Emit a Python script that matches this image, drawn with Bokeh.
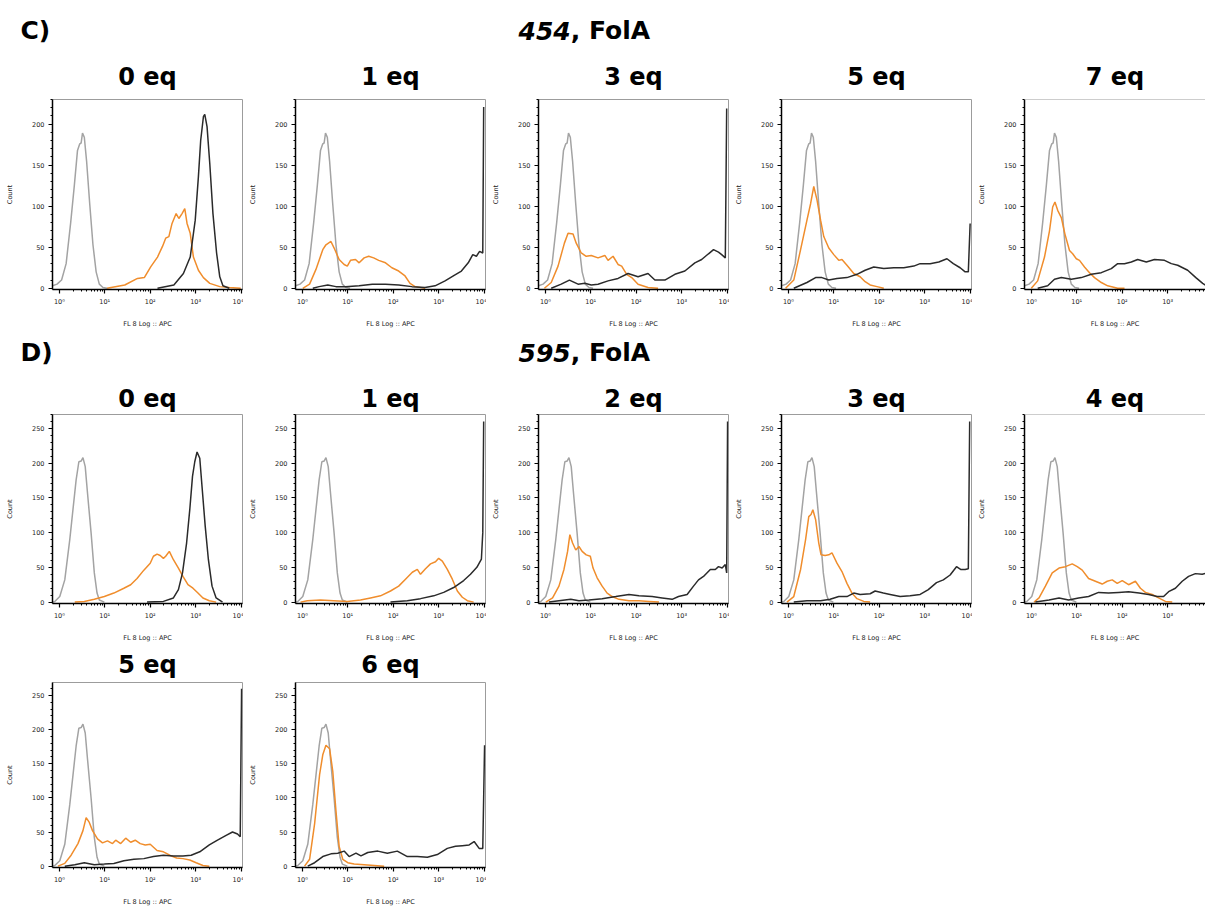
import numpy as np
from bokeh.plotting import figure
from bokeh.layouts import row, column
from bokeh.models import Range1d, FixedTicker, CustomJSTickFormatter, Label, Span
from bokeh.embed import file_html
from bokeh.resources import INLINE

# ---------------------------------------------------------------
# Flow cytometry histograms (FL 8 Log :: APC), x given in log10 units
# ---------------------------------------------------------------
X_DECADES = [0, 1, 2, 3, 4]
X_START, X_END = -0.15, 4.03

# compound 454, FolA
C_COMPOUND = "454"
C_TITLES = ["0 eq", "1 eq", "3 eq", "5 eq", "7 eq"]
C_Y_TICKS = [0, 50, 100, 150, 200]

C_GRAY_X = [-0.15, -0.05, 0.05, 0.15, 0.25, 0.33, 0.40, 0.45, 0.48, 0.51, 0.55, 0.60, 0.67, 0.74, 0.81, 0.88, 0.96, 1.05]
C_GRAY_Y = [3, 5, 10, 30, 80, 125, 168, 176, 177, 189, 184, 155, 102, 53, 20, 5, 1, 0]

C1_ORANGE_X = [1.05, 1.44, 1.72, 1.87, 2.01, 2.16, 2.27, 2.34, 2.41, 2.48, 2.57, 2.63, 2.70, 2.76, 2.81, 2.88, 2.95, 3.06, 3.17, 3.31, 3.53, 3.74, 3.99]
C1_ORANGE_Y = [0, 4, 12, 13, 26, 38, 51, 61, 63, 79, 91, 85, 91, 97, 79, 67, 38, 22, 13, 6, 2, 1, 0]
C1_BLACK_X = [2.16, 2.52, 2.73, 2.88, 2.99, 3.06, 3.11, 3.17, 3.20, 3.25, 3.31, 3.38, 3.46, 3.53, 3.60, 3.74]
C1_BLACK_Y = [0, 4, 18, 38, 83, 136, 180, 209, 212, 197, 152, 91, 43, 14, 3, 0]

C2_ORANGE_X = [0.01, 0.16, 0.30, 0.45, 0.52, 0.63, 0.70, 0.81, 0.92, 0.99, 1.06, 1.17, 1.25, 1.36, 1.46, 1.57, 1.68, 1.83, 1.97, 2.12, 2.26, 2.37, 2.48, 2.70]
C2_ORANGE_Y = [0, 5, 23, 47, 53, 57, 49, 35, 29, 27, 34, 35, 31, 37, 39, 37, 34, 31, 25, 21, 15, 6, 2, 0]
C2_BLACK_X = [0.23, 0.37, 0.56, 0.74, 0.95, 1.25, 1.54, 1.83, 2.12, 2.41, 2.70, 2.92, 3.14, 3.35, 3.50, 3.65, 3.75, 3.83, 3.90, 3.97, 3.99]
C2_BLACK_Y = [0, 2, 4, 2, 2, 3, 5, 5, 4, 2, 1, 3, 9, 16, 21, 31, 41, 39, 45, 43, 221]

C3_ORANGE_X = [-0.02, 0.13, 0.28, 0.42, 0.50, 0.61, 0.68, 0.79, 0.90, 1.01, 1.16, 1.31, 1.38, 1.49, 1.60, 1.68, 1.79, 1.90, 2.04, 2.26, 2.48]
C3_ORANGE_Y = [0, 7, 27, 55, 67, 66, 55, 43, 39, 40, 37, 40, 34, 39, 29, 27, 17, 13, 5, 1, 0]
C3_BLACK_X = [0.13, 0.35, 0.53, 0.72, 0.87, 1.01, 1.16, 1.38, 1.60, 1.82, 2.04, 2.26, 2.41, 2.63, 2.85, 3.07, 3.29, 3.44, 3.59, 3.70, 3.81, 3.88, 3.96, 3.99]
C3_BLACK_Y = [0, 5, 10, 5, 6, 4, 5, 9, 12, 18, 14, 18, 10, 10, 17, 21, 31, 35, 42, 47, 44, 41, 37, 219]

C4_ORANGE_X = [-0.06, 0.12, 0.27, 0.41, 0.49, 0.56, 0.63, 0.71, 0.78, 0.89, 1.00, 1.11, 1.18, 1.29, 1.44, 1.58, 1.69, 1.80, 1.95, 2.10]
C4_ORANGE_Y = [0, 10, 47, 83, 103, 124, 108, 83, 63, 49, 41, 34, 35, 28, 18, 14, 8, 4, 2, 0]
C4_BLACK_X = [0.12, 0.41, 0.60, 0.74, 0.89, 1.07, 1.29, 1.51, 1.69, 1.88, 2.10, 2.32, 2.54, 2.76, 2.90, 3.12, 3.31, 3.49, 3.63, 3.78, 3.89, 3.96, 4.00]
C4_BLACK_Y = [0, 7, 13, 13, 10, 12, 13, 17, 22, 26, 24, 25, 25, 27, 30, 30, 32, 36, 30, 25, 20, 20, 79]

C5_ORANGE_X = [0.00, 0.14, 0.29, 0.40, 0.47, 0.52, 0.58, 0.66, 0.74, 0.84, 0.91, 0.99, 1.06, 1.17, 1.28, 1.39, 1.54, 1.68, 1.90, 2.05]
C5_ORANGE_Y = [0, 9, 38, 70, 99, 105, 95, 86, 66, 46, 42, 36, 34, 26, 19, 13, 7, 3, 0, 0]
C5_BLACK_X = [0.14, 0.36, 0.51, 0.66, 0.88, 1.10, 1.32, 1.54, 1.76, 1.90, 2.05, 2.20, 2.34, 2.53, 2.71, 2.93, 3.08, 3.22, 3.44, 3.62, 3.77, 3.85]
C5_BLACK_Y = [0, 3, 11, 13, 11, 13, 17, 19, 24, 30, 30, 32, 35, 32, 35, 34, 30, 28, 22, 13, 6, 3]

# compound 595, FolA
D_COMPOUND = "595"
D_TITLES = ["0 eq", "1 eq", "2 eq", "3 eq", "4 eq", "5 eq", "6 eq"]
D_Y_TICKS = [0, 50, 100, 150, 200, 250]

D_GRAY_X = [-0.15, -0.10, 0.01, 0.12, 0.23, 0.30, 0.37, 0.43, 0.48, 0.52, 0.57, 0.62, 0.70, 0.77, 0.83, 0.88, 0.99]
D_GRAY_Y = [0, 1, 8, 32, 90, 133, 176, 202, 203, 208, 195, 157, 99, 42, 13, 3, 0]

D1_ORANGE_X = [0.34, 0.55, 0.77, 0.99, 1.20, 1.42, 1.57, 1.71, 1.86, 2.00, 2.07, 2.15, 2.22, 2.29, 2.34, 2.42, 2.51, 2.62, 2.72, 2.83, 2.94, 3.05, 3.16, 3.30, 3.45]
D1_ORANGE_Y = [0, 1, 4, 8, 13, 20, 25, 34, 46, 56, 66, 69, 67, 63, 66, 73, 61, 49, 37, 25, 20, 13, 6, 2, 0]
D1_BLACK_X = [1.93, 2.29, 2.51, 2.62, 2.71, 2.80, 2.87, 2.93, 2.98, 3.03, 3.09, 3.14, 3.21, 3.28, 3.36, 3.45, 3.59]
D1_BLACK_Y = [0, 1, 6, 18, 42, 85, 133, 181, 202, 216, 207, 166, 109, 61, 23, 6, 0]

D2_ORANGE_X = [-0.04, 0.11, 0.40, 0.69, 0.99, 1.28, 1.50, 1.72, 1.94, 2.12, 2.27, 2.42, 2.53, 2.60, 2.71, 2.82, 2.93, 3.00, 3.08, 3.19, 3.30, 3.41, 3.52, 3.63, 3.77]
D2_ORANGE_Y = [0, 2, 3, 2, 1, 3, 6, 9, 16, 23, 33, 43, 47, 40, 48, 55, 58, 63, 59, 47, 33, 16, 7, 2, 0]
D2_BLACK_X = [1.94, 2.31, 2.60, 2.89, 3.11, 3.33, 3.55, 3.70, 3.84, 3.94, 3.97, 3.99]
D2_BLACK_Y = [0, 2, 5, 9, 14, 21, 31, 40, 50, 62, 100, 260]

D3_ORANGE_X = [0.01, 0.16, 0.30, 0.41, 0.49, 0.54, 0.60, 0.67, 0.74, 0.81, 0.90, 0.99, 1.05, 1.14, 1.25, 1.36, 1.47, 1.62, 1.84, 2.06, 2.28, 2.50]
D3_ORANGE_Y = [0, 6, 23, 47, 73, 97, 85, 75, 80, 73, 68, 66, 49, 35, 23, 13, 8, 4, 2, 2, 1, 0]
D3_BLACK_X = [0.08, 0.30, 0.56, 0.74, 0.96, 1.25, 1.55, 1.84, 2.06, 2.35, 2.57, 2.79, 2.93, 3.12, 3.26, 3.37, 3.48, 3.63, 3.74, 3.81, 3.89, 3.96, 3.99, 4.01]
D3_BLACK_Y = [0, 2, 4, 2, 3, 5, 8, 11, 9, 8, 6, 4, 8, 11, 23, 32, 37, 47, 47, 51, 49, 54, 42, 260]

D4_ORANGE_X = [-0.03, 0.12, 0.27, 0.38, 0.45, 0.50, 0.54, 0.60, 0.67, 0.72, 0.81, 0.89, 0.96, 1.07, 1.18, 1.29, 1.40, 1.51, 1.66, 1.80]
D4_ORANGE_Y = [0, 8, 47, 90, 123, 126, 133, 119, 85, 68, 67, 68, 71, 56, 44, 27, 13, 5, 1, 0]
D4_BLACK_X = [0.12, 0.41, 0.71, 0.92, 1.11, 1.29, 1.44, 1.58, 1.80, 1.91, 2.09, 2.24, 2.46, 2.68, 2.90, 3.08, 3.26, 3.41, 3.56, 3.70, 3.79, 3.89, 3.96, 3.99]
D4_BLACK_Y = [0, 2, 2, 4, 8, 8, 13, 11, 12, 16, 13, 11, 8, 9, 11, 18, 28, 32, 39, 51, 47, 47, 48, 260]

D5_ORANGE_X = [0.06, 0.17, 0.31, 0.46, 0.61, 0.75, 0.90, 1.01, 1.12, 1.26, 1.41, 1.56, 1.67, 1.78, 1.89, 2.00, 2.14, 2.29, 2.40, 2.51, 2.66, 2.80, 2.95, 3.10]
D5_ORANGE_Y = [0, 6, 23, 42, 49, 51, 55, 51, 46, 34, 30, 26, 30, 32, 27, 31, 25, 30, 20, 14, 11, 6, 1, 0]
D5_BLACK_X = [0.09, 0.39, 0.61, 0.82, 1.04, 1.26, 1.48, 1.70, 1.92, 2.14, 2.37, 2.58, 2.77, 2.91, 3.02, 3.17, 3.32, 3.46, 3.61, 3.76, 3.87]
D5_BLACK_Y = [0, 3, 6, 3, 6, 8, 14, 13, 14, 15, 13, 11, 8, 8, 15, 20, 30, 37, 41, 40, 42]

D6_ORANGE_X = [-0.03, 0.12, 0.26, 0.41, 0.52, 0.59, 0.66, 0.73, 0.84, 0.95, 1.06, 1.17, 1.24, 1.35, 1.46, 1.57, 1.67, 1.78, 1.89, 2.00, 2.15, 2.29, 2.43, 2.58, 2.72, 2.87, 3.01, 3.16, 3.30]
D6_ORANGE_Y = [0, 4, 16, 33, 52, 71, 64, 52, 40, 34, 37, 33, 38, 33, 41, 35, 38, 33, 31, 32, 23, 21, 16, 12, 11, 9, 5, 1, 0]
D6_BLACK_X = [0.12, 0.34, 0.55, 0.77, 0.99, 1.20, 1.42, 1.64, 1.86, 2.07, 2.29, 2.51, 2.72, 2.90, 3.09, 3.30, 3.48, 3.67, 3.81, 3.92, 3.98, 4.01]
D6_BLACK_Y = [0, 2, 5, 2, 3, 4, 8, 10, 11, 14, 16, 15, 15, 16, 21, 31, 38, 45, 50, 47, 43, 260]

D7_ORANGE_X = [0.05, 0.16, 0.27, 0.38, 0.45, 0.52, 0.60, 0.67, 0.74, 0.81, 0.89, 1.00, 1.14, 1.36, 1.58, 1.80]
D7_ORANGE_Y = [0, 10, 62, 134, 163, 177, 172, 139, 81, 29, 10, 5, 3, 2, 1, 0]
D7_BLACK_X = [0.12, 0.27, 0.45, 0.63, 0.78, 0.92, 1.03, 1.18, 1.29, 1.44, 1.66, 1.87, 2.09, 2.31, 2.53, 2.75, 2.97, 3.19, 3.37, 3.52, 3.67, 3.78, 3.89, 3.97, 4.01]
D7_BLACK_Y = [0, 5, 14, 18, 19, 22, 14, 19, 15, 20, 22, 19, 22, 14, 14, 13, 17, 26, 29, 30, 31, 36, 26, 26, 177]

GRAY, ORANGE, BLACK = "#a3a3a3", "#f08d2c", "#2a2a2a"
FRAME_GRAY = "#9c9c9c"
FONT = "DejaVu Sans"

LOG_FMT = CustomJSTickFormatter(code="""
const sup = ["\u2070", "\u00b9", "\u00b2", "\u00b3", "\u2074"];
const e = Math.round(Math.log10(tick));
return "10" + sup[e];
""")

COL_W = 243
LEFT_B = 52
FRAME_W = 190


def panel(title, gray, orange, black, y_ticks, y_lo, y_hi, height, top, bottom,
          title_standoff, title_offset, last=False):
    width = 1205 - 4 * COL_W if last else COL_W
    fw = width - LEFT_B - (0 if last else 1)
    x_end = X_START + fw / FRAME_W * (X_END - X_START)
    p = figure(width=width, height=height, x_axis_type="log",
               x_range=Range1d(10 ** X_START, 10 ** x_end), y_range=Range1d(y_lo, y_hi),
               min_border_left=LEFT_B, min_border_right=0 if last else 1,
               min_border_top=top, min_border_bottom=bottom,
               output_backend="svg", toolbar_location=None, title=title)
    p.title.align = "center"
    p.title.text_font = FONT
    p.title.text_font_style = "bold"
    p.title.text_font_size = "24px"
    p.title.text_color = "black"
    p.title.standoff = title_standoff
    p.title.offset = title_offset
    p.xgrid.visible = False
    p.ygrid.visible = False
    p.background_fill_color = "white"
    p.border_fill_color = "white"
    if last:
        p.outline_line_color = None
        p.add_layout(Span(location=y_hi, dimension="width", line_color=FRAME_GRAY, line_width=1))
    else:
        p.outline_line_color = FRAME_GRAY
        p.outline_line_width = 1

    for (xs, ys), col in ((gray, GRAY), (orange, ORANGE), (black, BLACK)):
        p.line(10 ** np.asarray(xs, dtype=float), ys, line_color=col, line_width=1.5)

    xa = p.xaxis[0]
    xa.ticker = FixedTicker(ticks=[10.0 ** d for d in X_DECADES],
                            minor_ticks=[m * 10.0 ** d for d in X_DECADES[:-1] for m in range(2, 10)])
    xa.formatter = LOG_FMT
    xa.axis_label = "FL 8 Log :: APC"
    xa.axis_label_standoff = 11
    ya = p.yaxis[0]
    ya.ticker = FixedTicker(ticks=y_ticks, minor_ticks=list(range(0, int(y_hi) + 1, 10)))
    ya.axis_label = "Count"
    ya.axis_label_standoff = 15
    for ax in (xa, ya):
        ax.axis_line_color = "black"
        ax.axis_line_width = 1.5
        ax.major_tick_line_color = "black"
        ax.major_tick_line_width = 1.2
        ax.major_tick_out = 4
        ax.major_tick_in = 0
        ax.minor_tick_line_color = "black"
        ax.minor_tick_out = 2
        ax.minor_tick_in = 0
        ax.major_label_text_font = FONT
        ax.major_label_text_font_size = "6.5px"
        ax.major_label_text_color = "#222222"
        ax.major_label_standoff = 4
        ax.axis_label_text_font = FONT
        ax.axis_label_text_font_style = "normal"
        ax.axis_label_text_color = "#222222"
    xa.axis_label_text_font_size = "6.5px"
    ya.axis_label_text_font_size = "6.5px"
    return p


def header(letter, compound, height, yc):
    h = figure(width=1205, height=height, x_range=Range1d(0, 1205), y_range=Range1d(height, 0),
               x_axis_location=None, y_axis_location=None, min_border=0,
               output_backend="svg", toolbar_location=None)
    h.xgrid.visible = False
    h.ygrid.visible = False
    h.outline_line_color = None
    common = dict(y=yc, text_font=FONT, text_font_size="25px", text_baseline="middle",
                  text_align="left", text_color="black")
    h.add_layout(Label(x=20, text=letter, text_font_style="bold", **common))
    h.add_layout(Label(x=518, text=compound, text_font_style="bold italic", **common))
    h.add_layout(Label(x=518 + 3 * 0.696 * 25, text=", FolA", text_font_style="bold", **common))
    return h


C_DATA = [
    (C1_ORANGE_X, C1_ORANGE_Y, C1_BLACK_X, C1_BLACK_Y),
    (C2_ORANGE_X, C2_ORANGE_Y, C2_BLACK_X, C2_BLACK_Y),
    (C3_ORANGE_X, C3_ORANGE_Y, C3_BLACK_X, C3_BLACK_Y),
    (C4_ORANGE_X, C4_ORANGE_Y, C4_BLACK_X, C4_BLACK_Y),
    (C5_ORANGE_X, C5_ORANGE_Y, C5_BLACK_X, C5_BLACK_Y),
]
D_DATA = [
    (D1_ORANGE_X, D1_ORANGE_Y, D1_BLACK_X, D1_BLACK_Y),
    (D2_ORANGE_X, D2_ORANGE_Y, D2_BLACK_X, D2_BLACK_Y),
    (D3_ORANGE_X, D3_ORANGE_Y, D3_BLACK_X, D3_BLACK_Y),
    (D4_ORANGE_X, D4_ORANGE_Y, D4_BLACK_X, D4_BLACK_Y),
    (D5_ORANGE_X, D5_ORANGE_Y, D5_BLACK_X, D5_BLACK_Y),
    (D6_ORANGE_X, D6_ORANGE_Y, D6_BLACK_X, D6_BLACK_Y),
    (D7_ORANGE_X, D7_ORANGE_Y, D7_BLACK_X, D7_BLACK_Y),
]


def offset_for(i):
    return -10 if i == 0 else (0 if i == 4 else -6)


row_c = []
for i, (t, (ox, oy, bx, by)) in enumerate(zip(C_TITLES, C_DATA)):
    row_c.append(panel(t, (C_GRAY_X, C_GRAY_Y), (ox, oy), (bx, by), C_Y_TICKS, -1.5, 230,
                       285, 49, 46, 17, offset_for(i), last=(i == 4)))

row_d, row_e = [], []
for i, (t, (ox, oy, bx, by)) in enumerate(zip(D_TITLES, D_DATA)):
    if i < 5:
        row_d.append(panel(t, (D_GRAY_X, D_GRAY_Y), (ox, oy), (bx, by), D_Y_TICKS, -2, 270,
                           270, 39, 42, 3, offset_for(i), last=(i == 4)))
    else:
        row_e.append(panel(t, (D_GRAY_X, D_GRAY_Y), (ox, oy), (bx, by), D_Y_TICKS, -2, 269,
                           263, 37, 37, 7, offset_for(i - 5)))

layout = column(
    header("C)", C_COMPOUND, 50, 30),
    row(row_c, spacing=0),
    header("D)", D_COMPOUND, 40, 17),
    row(row_d, spacing=0),
    row(row_e, spacing=0),
    spacing=0,
)

open("out.html", "w").write(file_html(layout, INLINE))
